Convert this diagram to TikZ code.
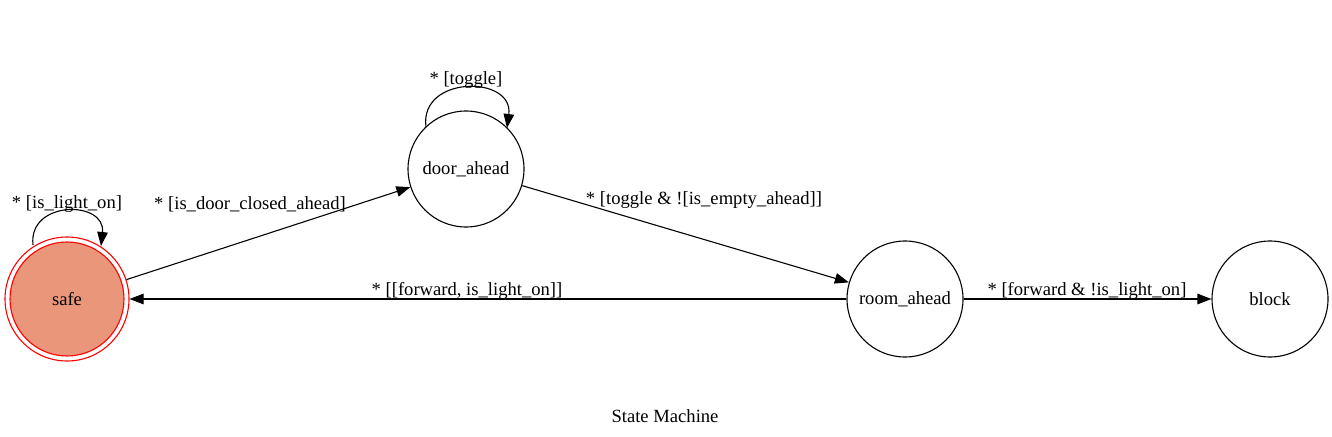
\documentclass[tikz,border=0pt]{standalone}
\usepackage{fontspec}
\setmainfont{Liberation Serif}
\usetikzlibrary{arrows.meta}
\definecolor{safefill}{RGB}{233,150,122}
\tikzset{
  state/.style={circle, draw=black, line width=1.1pt, inner sep=0pt, minimum size=116pt, font=\fontsize{18.6}{21}\selectfont},
  edge/.style={line width=1.1pt, -{Triangle[length=14pt,width=10.5pt]}},
  lbl/.style={inner sep=0pt, font=\fontsize{18.6}{21}\selectfont}
}
\begin{document}
\begin{tikzpicture}[x=1pt,y=-1pt]
\useasboundingbox[fill=white] (0,0) rectangle (1332,436);
% states
\node[state, draw=red, minimum size=124pt] (safe) at (67,299) {};
\node[state, draw=red, fill=safefill, minimum size=114pt] (safein) at (67,299) {safe};
\node[state] (door) at (466,169) {door\_ahead};
\node[state] (room) at (905,299) {room\_ahead};
\node[state] (block) at (1270,299) {block};
% loops
\coordinate (s1) at (33,245);
\coordinate (s2) at (101,246);
\draw[edge] (s1) .. controls (28,200) and (106,200) .. (s2);
\coordinate (d1) at (426,127);
\coordinate (d2) at (507,128);
\draw[edge] (d1) .. controls (419,75) and (514,75) .. (d2);
% edges
\draw[edge] (safe) -- (door);
\draw[edge] (door) -- (room);
\draw[edge] (room.west) -- (safe.east);
\draw[edge] (room.east) -- (block.west);
% labels
\node[lbl] (l1) at (67,204) {* [is\_light\_on]};
\node[lbl] (l2) at (250,204) {* [is\_door\_closed\_ahead]};
\node[lbl] (l3) at (466,80) {* [toggle]};
\node[lbl] (l4) at (704,200) {* [toggle \& ![is\_empty\_ahead]]};
\node[lbl] (l5) at (467,291) {* [[forward, is\_light\_on]]};
\node[lbl] (l6) at (1087,291) {* [forward \& !is\_light\_on]};
\node[lbl] (title) at (665,416) {State Machine};
\end{tikzpicture}
\end{document}
